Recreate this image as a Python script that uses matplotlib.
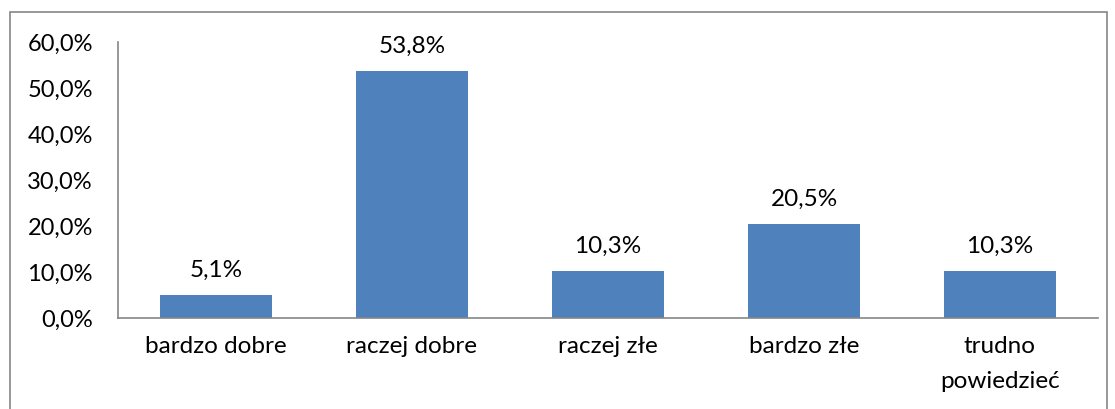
import matplotlib.pyplot as plt
from matplotlib.patches import Rectangle

categories = ["bardzo dobre", "raczej dobre", "raczej złe", "bardzo złe", "trudno\npowiedzieć"]
values = [5.1, 53.8, 10.3, 20.5, 10.3]
yticks = [0, 10, 20, 30, 40, 50, 60]

plt.rcParams['font.family'] = ['Lato', 'DejaVu Sans']

W, H = 1115, 409
fig = plt.figure(figsize=(W / 100, H / 100), dpi=100)

# outer frame (bottom edge falls outside the picture)
fig.patches.append(Rectangle((10 / W, -0.05), (1107 - 10) / W, 1 - 12 / H + 0.05,
                             transform=fig.transFigure, fill=False,
                             edgecolor='#868686', linewidth=1.2))

ax = fig.add_axes([118 / W, 1 - 318 / H, (1098 - 118) / W, (318 - 42) / H])
x = range(len(categories))
bars = ax.bar(x, values, width=0.57, color='#4F81BD')

for b, v in zip(bars, values):
    ax.text(b.get_x() + b.get_width() / 2, v + 3.0, f"{v:.1f}%".replace('.', ','),
            ha='center', va='bottom', fontsize=17.5, color='black')

ax.set_xlim(-0.5, len(categories) - 0.5)
ax.set_ylim(0, 60)
ax.set_yticks(yticks)
ax.set_yticklabels([f"{t:.1f}%".replace('.', ',') for t in yticks], fontsize=17)
ax.set_xticks(list(x))
ax.set_xticklabels(categories, fontsize=17.5, linespacing=1.8, va='top')
ax.tick_params(length=0, pad=18)
ax.tick_params(axis='x', pad=13)

for s in ['top', 'right']:
    ax.spines[s].set_visible(False)
for s in ['left', 'bottom']:
    ax.spines[s].set_color('#868686')
    ax.spines[s].set_linewidth(1.2)

fig.savefig('out.png', dpi=100)
